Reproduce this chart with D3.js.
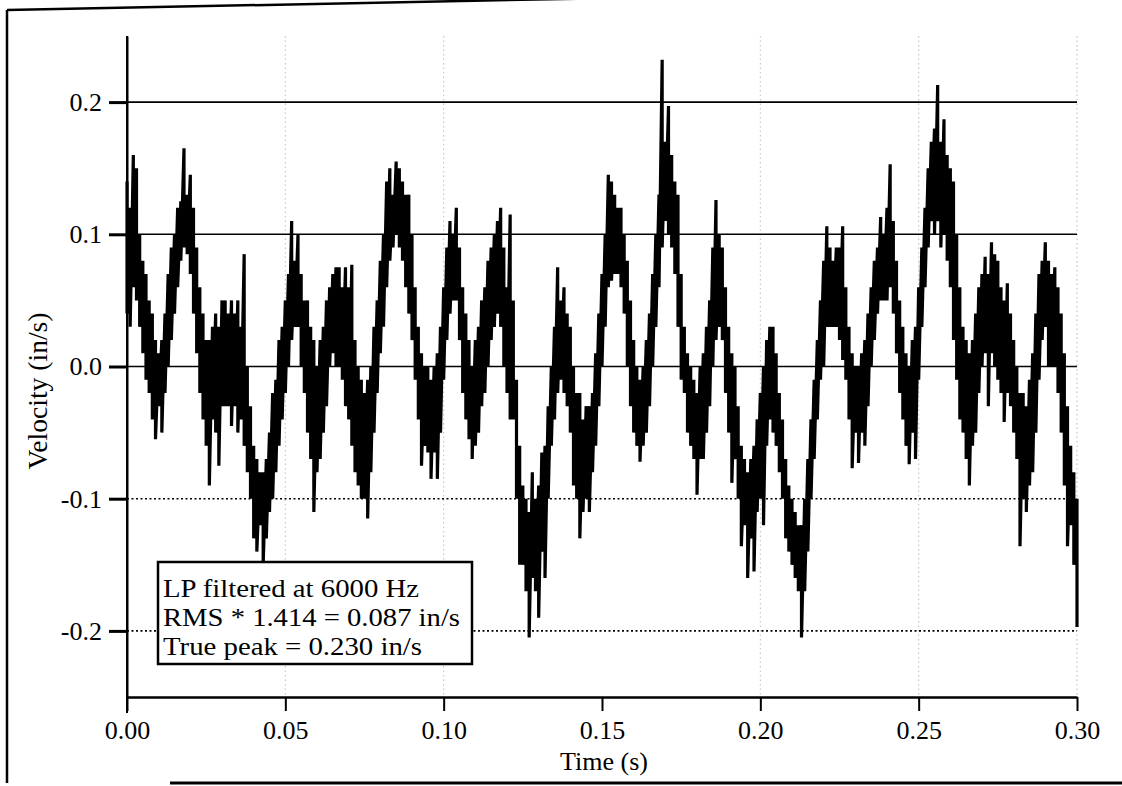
<!DOCTYPE html>
<html>
<head>
<meta charset="utf-8">
<script src="https://cdn.jsdelivr.net/npm/d3@7"></script>
<style>
  html, body { margin: 0; padding: 0; background: #fff; }
  svg { display: block; }
  text { font-family: "Liberation Serif", "Times New Roman", serif; fill: #000; }
</style>
</head>
<body>
<svg id="chart" width="1122" height="786"></svg>
<script>
// sample spacing of the trace (s)
const SAMPLE_STEP = 0.001;

// upper edge of the noisy trace, one value per ms (in/s)
const velHigh = [
  0.14, 0.12, 0.16, 0.15, 0.10, 0.08, 0.07, 0.05, 0.04, 0.02,
  0.01, 0.02, 0.04, 0.07, 0.09, 0.10, 0.12, 0.125, 0.165, 0.13,
  0.145, 0.12, 0.09, 0.06, 0.04, 0.02, 0.02, 0.03, 0.04, 0.03,
  0.05, 0.05, 0.04, 0.05, 0.04, 0.05, 0.03, 0.085, 0.0, -0.03,
  -0.06, -0.07, -0.08, -0.08, -0.07, -0.05, -0.02, -0.01, 0.02, 0.03,
  0.05, 0.07, 0.11, 0.08, 0.10, 0.07, 0.05, 0.05, 0.03, 0.02,
  0.0, 0.02, 0.03, 0.05, 0.06, 0.07, 0.075, 0.075, 0.06, 0.075,
  0.06, 0.077, 0.02, 0.0, -0.01, -0.02, -0.01, 0.0, 0.03, 0.05,
  0.08, 0.10, 0.14, 0.15, 0.13, 0.155, 0.15, 0.14, 0.13, 0.13,
  0.10, 0.06, 0.03, 0.01, 0.0, 0.0, -0.01, 0.0, 0.01, 0.03,
  0.06, 0.09, 0.11, 0.10, 0.12, 0.09, 0.06, 0.04, 0.02, 0.0,
  0.02, 0.03, 0.05, 0.06, 0.08, 0.09, 0.10, 0.11, 0.12, 0.09,
  0.06, 0.115, 0.05, -0.01, -0.06, -0.09, -0.10, -0.11, -0.08, -0.10,
  -0.09, -0.065, -0.06, -0.03, 0.0, 0.03, 0.075, 0.05, 0.06, 0.04,
  0.03, 0.0, -0.02, -0.02, -0.04, -0.03, -0.03, -0.02, 0.01, 0.04,
  0.07, 0.10, 0.145, 0.14, 0.13, 0.12, 0.12, 0.10, 0.08, 0.05,
  0.02, 0.0, -0.01, 0.0, 0.02, 0.04, 0.07, 0.10, 0.13, 0.232,
  0.17, 0.197, 0.16, 0.14, 0.13, 0.07, 0.03, 0.01, 0.0, -0.01,
  -0.02, 0.0, 0.01, 0.03, 0.05, 0.09, 0.126, 0.10, 0.09, 0.06,
  0.03, 0.01, 0.0, -0.03, -0.06, -0.07, -0.08, -0.07, -0.06, -0.04,
  -0.02, 0.0, 0.02, 0.03, 0.03, 0.01, -0.02, -0.04, -0.07, -0.09,
  -0.10, -0.11, -0.12, -0.12, -0.10, -0.07, -0.04, -0.01, 0.02, 0.05,
  0.08, 0.106, 0.09, 0.08, 0.09, 0.09, 0.106, 0.06, 0.03, 0.01,
  0.0, 0.0, 0.01, 0.02, 0.04, 0.06, 0.08, 0.09, 0.113, 0.10,
  0.12, 0.153, 0.11, 0.08, 0.05, 0.03, 0.01, 0.0, 0.02, 0.03,
  0.06, 0.09, 0.12, 0.15, 0.17, 0.18, 0.213, 0.17, 0.187, 0.16,
  0.15, 0.14, 0.10, 0.06, 0.03, 0.02, 0.01, 0.02, 0.04, 0.06,
  0.07, 0.083, 0.07, 0.094, 0.085, 0.08, 0.06, 0.05, 0.063, 0.04,
  0.02, 0.0, -0.02, -0.02, -0.03, -0.01, 0.01, 0.04, 0.07, 0.08,
  0.094, 0.08, 0.07, 0.075, 0.06, 0.04, 0.01, -0.03, -0.06, -0.08,
  -0.10
];

// lower edge of the noisy trace, one value per ms (in/s)
const velLow = [
  0.04, 0.03, 0.06, 0.05, 0.03, 0.01, -0.01, -0.02, -0.04, -0.055,
  -0.03, -0.05, -0.02, 0.0, 0.02, 0.04, 0.06, 0.08, 0.09, 0.085,
  0.07, 0.04, 0.01, -0.02, -0.04, -0.06, -0.09, -0.04, -0.05, -0.075,
  -0.03, -0.03, -0.03, -0.045, -0.03, -0.05, -0.04, -0.06, -0.08, -0.10,
  -0.13, -0.14, -0.12, -0.15, -0.13, -0.11, -0.10, -0.08, -0.06, -0.04,
  -0.02, 0.0, 0.02, 0.03, 0.03, 0.0, -0.02, -0.05, -0.07, -0.11,
  -0.08, -0.07, -0.05, -0.03, 0.0, 0.01, 0.0, 0.0, -0.01, -0.03,
  -0.04, -0.06, -0.08, -0.09, -0.10, -0.10, -0.115, -0.08, -0.05, -0.02,
  0.01, 0.03, 0.06, 0.08, 0.09, 0.10, 0.09, 0.08, 0.06, 0.04,
  0.02, -0.01, -0.04, -0.075, -0.06, -0.065, -0.085, -0.065, -0.085, -0.05,
  -0.01, 0.02, 0.04, 0.05, 0.05, 0.02, -0.02, -0.04, -0.055, -0.07,
  -0.06, -0.05, -0.03, -0.02, 0.0, 0.02, 0.03, 0.04, 0.03, 0.0,
  -0.02, -0.04, -0.04, -0.10, -0.15, -0.15, -0.17, -0.205, -0.16, -0.17,
  -0.19, -0.14, -0.16, -0.10, -0.06, -0.04, -0.02, -0.01, -0.02, -0.03,
  -0.05, -0.09, -0.10, -0.13, -0.11, -0.10, -0.11, -0.08, -0.06, -0.03,
  0.0, 0.03, 0.06, 0.065, 0.07, 0.07, 0.06, 0.04, 0.0, -0.03,
  -0.05, -0.06, -0.072, -0.06, -0.05, -0.03, 0.0, 0.03, 0.06, 0.09,
  0.11, 0.10, 0.09, 0.07, 0.03, -0.01, -0.02, -0.05, -0.06, -0.07,
  -0.097, -0.07, -0.07, -0.05, -0.03, 0.0, 0.02, 0.03, 0.02, -0.02,
  -0.05, -0.088, -0.07, -0.10, -0.136, -0.12, -0.16, -0.13, -0.155, -0.11,
  -0.10, -0.12, -0.06, -0.04, -0.05, -0.06, -0.08, -0.10, -0.13, -0.14,
  -0.15, -0.16, -0.17, -0.205, -0.17, -0.14, -0.10, -0.07, -0.04, -0.01,
  0.0, 0.03, 0.03, 0.03, 0.03, 0.02, 0.005, -0.01, -0.04, -0.077,
  -0.05, -0.073, -0.05, -0.06, -0.03, 0.0, 0.02, 0.04, 0.05, 0.05,
  0.05, 0.06, 0.04, 0.01, -0.02, -0.04, -0.06, -0.074, -0.05, -0.07,
  -0.01, 0.03, 0.06, 0.09, 0.11, 0.10, 0.11, 0.09, 0.10, 0.08,
  0.06, 0.02, -0.01, -0.04, -0.05, -0.07, -0.09, -0.06, -0.05, -0.02,
  0.0, 0.01, -0.03, 0.01, 0.0, -0.01, -0.02, -0.042, -0.02, -0.03,
  -0.05, -0.07, -0.136, -0.10, -0.11, -0.09, -0.08, -0.05, -0.01, 0.02,
  0.03, 0.0, 0.0, 0.0, -0.02, -0.05, -0.09, -0.136, -0.12, -0.15,
  -0.197
];

// axis ticks / grid
const xTicks = [0.00, 0.05, 0.10, 0.15, 0.20, 0.25, 0.30];
const yTicks = [-0.2, -0.1, 0.0, 0.1, 0.2];
const solidGrid = [0.2, 0.1, 0.0];
const dottedGrid = [-0.1, -0.2];
const vGrid = [0.05, 0.10, 0.20, 0.25, 0.30];

const legendLines = ["LP filtered at 6000 Hz", "RMS * 1.414 = 0.087 in/s", "True peak = 0.230 in/s"];

const svg = d3.select("#chart");

var x = d3.scaleLinear().domain([0, 0.3]).range([127, 1077]);
var y = d3.scaleLinear().domain([-0.25, 0.25]).range([697, 36]);

// outer frame of the scanned page
svg.append("line").attr("x1", 7).attr("y1", 10).attr("x2", 7).attr("y2", 783)
  .attr("stroke", "#000").attr("stroke-width", 2.5);
svg.append("line").attr("x1", 7).attr("y1", 10).attr("x2", 1122).attr("y2", -12)
  .attr("stroke", "#000").attr("stroke-width", 2.5);
svg.append("line").attr("x1", 170).attr("y1", 783).attr("x2", 1122).attr("y2", 783)
  .attr("stroke", "#000").attr("stroke-width", 3);

// vertical dotted grid (barely visible in the original)
svg.selectAll(".vgrid").data(vGrid).enter().append("line")
  .attr("class", "vgrid")
  .attr("x1", d => x(d)).attr("x2", d => x(d))
  .attr("y1", y(0.25)).attr("y2", y(-0.25))
  .attr("stroke", "#000").attr("stroke-width", 1)
  .attr("stroke-dasharray", "1.5,3").attr("opacity", 0.25);

// horizontal grid
svg.selectAll(".sgrid").data(solidGrid).enter().append("line")
  .attr("class", "sgrid")
  .attr("x1", x(0)).attr("x2", x(0.3))
  .attr("y1", d => y(d)).attr("y2", d => y(d))
  .attr("stroke", "#000").attr("stroke-width", 1.6);

svg.selectAll(".dgrid").data(dottedGrid).enter().append("line")
  .attr("class", "dgrid")
  .attr("x1", x(0)).attr("x2", x(0.3))
  .attr("y1", d => y(d)).attr("y2", d => y(d))
  .attr("stroke", "#000").attr("stroke-width", 1.6)
  .attr("stroke-dasharray", "2,2.5");

// the trace: vertical stroke hi->lo at every sample, then on to the next
var pts = [];
for (var i = 0; i < velHigh.length; i++) {
  var t = i * SAMPLE_STEP;
  pts.push([t, velHigh[i]]);
  pts.push([t, velLow[i]]);
}
var line = d3.line().x(d => x(d[0])).y(d => y(d[1]));
svg.append("path")
  .datum(pts)
  .attr("d", line)
  .attr("fill", "none")
  .attr("stroke", "#000")
  .attr("stroke-width", 3.2)
  .attr("stroke-linejoin", "bevel");

// axes
var yAxis = d3.axisLeft(y).tickValues(yTicks).tickSize(18).tickSizeOuter(0)
  .tickPadding(7).tickFormat(d => d.toFixed(1));
var gy = svg.append("g").attr("transform", "translate(" + x(0) + ",0)").call(yAxis);
gy.select(".domain").attr("stroke-width", 2);
gy.selectAll(".tick line").attr("stroke-width", 3);
gy.selectAll(".tick text").style("font-size", "26px");

var xAxis = d3.axisBottom(x).tickValues(xTicks).tickSize(14).tickSizeOuter(0)
  .tickPadding(10).tickFormat(d => d.toFixed(2));
var gx = svg.append("g").attr("transform", "translate(0," + y(-0.25) + ")").call(xAxis);
gx.select(".domain").attr("stroke-width", 2.5);
gx.selectAll(".tick line").attr("stroke-width", 2);
gx.selectAll(".tick text").style("font-size", "26px");

// y axis line runs below the x axis like the 0.00 tick
svg.append("line").attr("x1", x(0)).attr("x2", x(0)).attr("y1", y(0.25)).attr("y2", y(-0.25) + 16)
  .attr("stroke", "#000").attr("stroke-width", 2);

// axis titles
svg.append("text")
  .attr("x", 604).attr("y", 770)
  .attr("text-anchor", "middle")
  .style("font-size", "26px")
  .text("Time (s)");

svg.append("text")
  .attr("transform", "translate(47,391) rotate(-90)")
  .attr("text-anchor", "middle")
  .attr("textLength", 157)
  .attr("lengthAdjust", "spacingAndGlyphs")
  .style("font-size", "27px")
  .text("Velocity (in/s)");

// annotation box
svg.append("rect")
  .attr("x", 158).attr("y", 562).attr("width", 314).attr("height", 102)
  .attr("fill", "#fff").attr("stroke", "#000").attr("stroke-width", 2.5);

var legendWidths = [256, 297, 259];
svg.selectAll(".note").data(legendLines).enter().append("text")
  .attr("class", "note")
  .attr("x", 163)
  .attr("y", (d, i) => 597 + i * 29)
  .attr("textLength", (d, i) => legendWidths[i])
  .attr("lengthAdjust", "spacingAndGlyphs")
  .style("font-size", "25px")
  .text(d => d);
</script>
</body>
</html>
